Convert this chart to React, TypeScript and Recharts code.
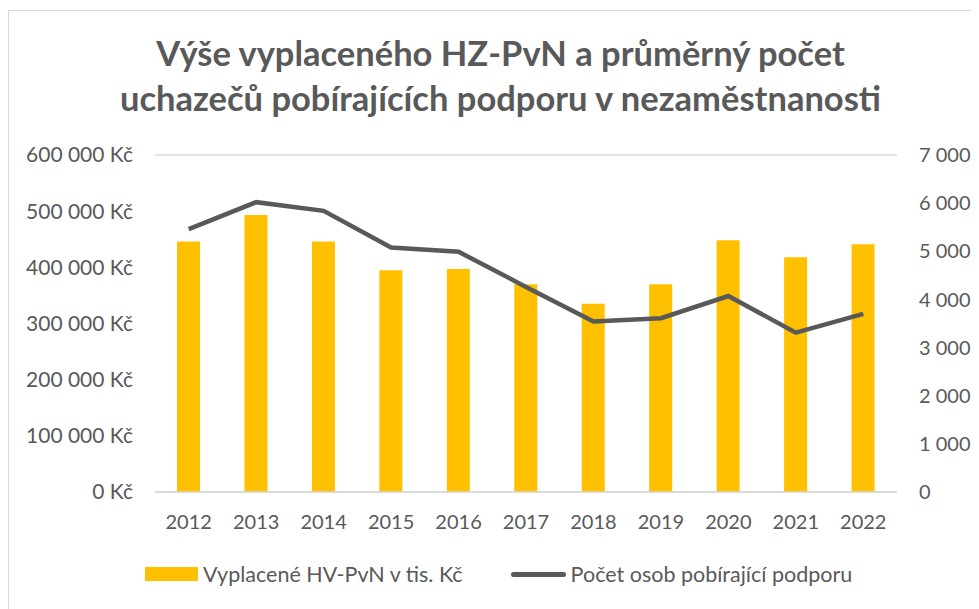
import React from "react";
import {
	Bar,
	CartesianGrid,
	ComposedChart,
	Legend,
	Line,
	XAxis,
	YAxis,
} from "recharts";

const years = ["2012", "2013", "2014", "2015", "2016", "2017", "2018", "2019", "2020", "2021", "2022"];
const paidAmounts = [446000, 493000, 446000, 395000, 397000, 370000, 335000, 370000, 448000, 418000, 441000];
const recipients = [5460, 6020, 5840, 5080, 4990, 4260, 3540, 3610, 4070, 3310, 3700];
const leftTicks = [0, 100000, 200000, 300000, 400000, 500000, 600000];
const rightTicks = [0, 1000, 2000, 3000, 4000, 5000, 6000, 7000];

const chartData = years.map((year, i) => ({
	year,
	paid: paidAmounts[i],
	people: recipients[i],
}));

const TEXT = "#595959";
const FONT = "Lato, 'Open Sans', sans-serif";

const fmtThousands = (v: number) =>
	String(v).replace(/\B(?=(\d{3})+(?!\d))/g, " ");

const LegendContent = () => (
	<div
		style={{
			display: "flex",
			alignItems: "center",
			fontFamily: FONT,
			fontSize: 21.5,
			color: TEXT,
			paddingLeft: 126,
			height: 26,
		}}
	>
		<span style={{ display: "inline-block", width: 53, height: 14, background: "#FFC000", marginRight: 5 }} />
		<span>Vyplacené HV-PvN v tis. Kč</span>
		<span style={{ display: "inline-block", width: 55, height: 5, borderRadius: 3, background: TEXT, marginLeft: 48, marginRight: 5 }} />
		<span>Počet osob pobírající podporu</span>
	</div>
);

export default function App() {
	return (
		<div
			style={{
				position: "relative",
				width: 975,
				height: 598,
				marginTop: 2,
				border: "1px solid #d9d9d9",
				background: "#fff",
				fontFamily: FONT,
			}}
		>
			<div
				style={{
					position: "absolute",
					top: 19,
					left: 9,
					width: 965,
					textAlign: "center",
					fontSize: 34.5,
					fontWeight: 700,
					lineHeight: "45px",
					color: TEXT,
				}}
			>
				Výše vyplaceného HZ-PvN a průměrný počet
				<br />
				uchazečů pobírajících podporu v nezaměstnanosti
			</div>
			<ComposedChart
				width={973}
				height={596}
				data={chartData}
				margin={{ top: 144, right: 10, bottom: 59, left: 10 }}
			>
				<CartesianGrid vertical={false} stroke="#d9d9d9" strokeWidth={1.5} />
				<XAxis
					dataKey="year"
					tickLine={false}
					axisLine={{ stroke: "#d9d9d9", strokeWidth: 1.5 }}
					tickSize={0}
					tickMargin={23}
					height={30}
					tick={{ fill: TEXT, fontSize: 20, fontFamily: FONT }}
				/>
				<YAxis
					yAxisId="left"
					orientation="left"
					width={136}
					domain={[0, 600000]}
					ticks={leftTicks}
					axisLine={false}
					tickLine={false}
					tickSize={0}
					tickMargin={22}
					tickFormatter={(v: number) => `${fmtThousands(v)} Kč`}
					tick={{ fill: TEXT, fontSize: 21, fontFamily: FONT }}
				/>
				<YAxis
					yAxisId="right"
					orientation="right"
					width={75}
					domain={[0, 7000]}
					ticks={rightTicks}
					axisLine={false}
					tickLine={false}
					tickSize={0}
					tickMargin={22}
					tickFormatter={(v: number) => fmtThousands(v)}
					tick={{ fill: TEXT, fontSize: 20, fontFamily: FONT, textAnchor: "start" }}
				/>
				<Legend
					content={<LegendContent />}
					verticalAlign="bottom"
					height={26}
					wrapperStyle={{ bottom: 20 }}
				/>
				<Bar
					yAxisId="left"
					dataKey="paid"
					name="Vyplacené HV-PvN v tis. Kč"
					fill="#FFC000"
					barSize={23}
					isAnimationActive={false}
				/>
				<Line
					yAxisId="right"
					dataKey="people"
					name="Počet osob pobírající podporu"
					type="linear"
					stroke={TEXT}
					strokeWidth={4.5}
					dot={false}
					activeDot={false}
					isAnimationActive={false}
				/>
			</ComposedChart>
		</div>
	);
}
